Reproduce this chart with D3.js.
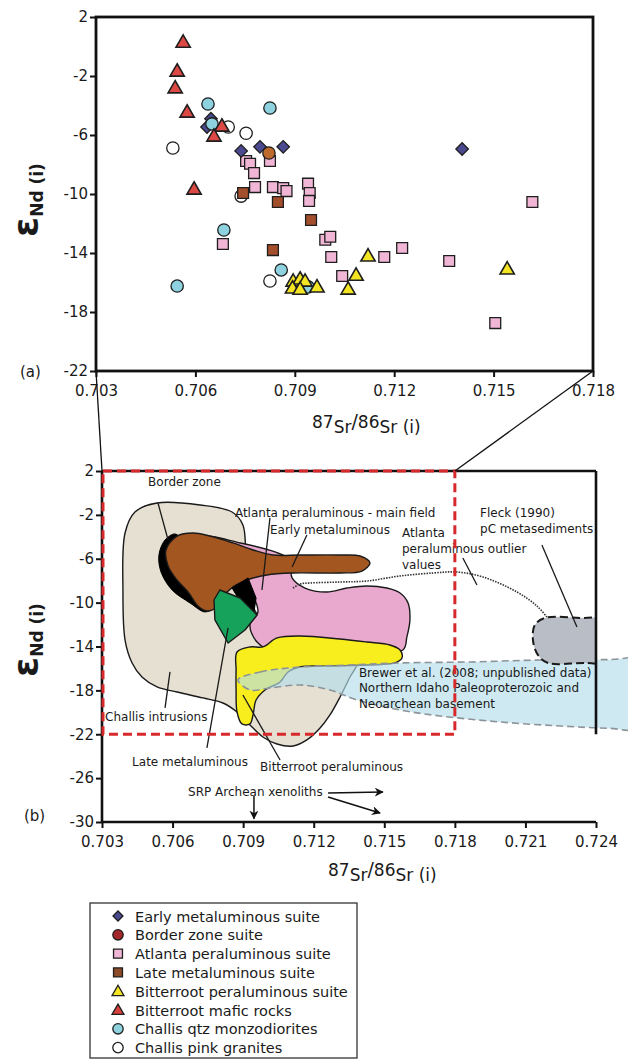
<!DOCTYPE html>
<html><head><meta charset="utf-8">
<script src="https://cdn.jsdelivr.net/npm/d3@7"></script>
<style>body{margin:0;background:#fff} svg{display:block} text{font-family:"DejaVu Sans",Verdana,sans-serif;fill:#1a1a1a}</style>
</head><body><svg id="c" width="628" height="1063"></svg>
<script>
// ---------- Panel (a) data: [87Sr/86Sr(i), eNd(i)] ----------
const earlyMetaluminous = [[0.70635,-5.46],[0.70647,-4.9],[0.70738,-7.08],[0.70795,-6.8],[0.70865,-6.8],[0.71405,-6.95]];
const borderZone = [[0.70822,-7.22]];
const atlantaPeraluminous = [[0.70753,-7.76],[0.70765,-7.95],[0.70777,-8.58],[0.70825,-7.76],[0.7078,-9.53],[0.70834,-9.53],
  [0.70865,-9.6],[0.70875,-9.8],[0.7094,-9.3],[0.70945,-9.93],[0.70943,-10.47],[0.70683,-13.39],[0.70992,-13.1],[0.71007,-12.9],
  [0.7101,-14.27],[0.71043,-15.56],[0.7117,-14.27],[0.71224,-13.66],[0.71366,-14.54],[0.71505,-18.75],[0.71617,-10.54]];
const lateMetaluminous = [[0.70744,-9.93],[0.70849,-10.54],[0.70949,-11.76],[0.70834,-13.8]];
const bitterrootPeraluminous = [[0.70895,-15.9],[0.70916,-15.76],[0.70931,-15.9],[0.70893,-16.37],[0.70916,-16.45],[0.70967,-16.3],
  [0.71121,-14.2],[0.71085,-15.5],[0.71061,-16.44],[0.71541,-15.08]];
const bitterrootMafic = [[0.70563,0.3],[0.70545,-1.66],[0.70539,-2.8],[0.70575,-4.44],[0.7068,-5.39],[0.70656,-6.07],[0.70596,-9.66]];
const challisQtzMonzodiorites = [[0.70638,-3.9],[0.70825,-4.17],[0.7065,-5.25],[0.70686,-12.44],[0.70859,-15.15],[0.70545,-16.24],[0.7094,-16.3]];
const challisPinkGranites = [[0.70532,-6.88],[0.70699,-5.46],[0.70753,-5.88],[0.70738,-10.14],[0.70825,-15.9]];

const xTicksA = [0.703,0.706,0.709,0.712,0.715,0.718];
const yTicksA = [2,-2,-6,-10,-14,-18,-22];
const xTicksB = [0.703,0.706,0.709,0.712,0.715,0.718,0.721,0.724];
const yTicksB = [2,-2,-6,-10,-14,-18,-22,-26,-30];

// ---------- Panel (b) fields: outlines in data units ----------
const challisField = [[0.70534,-0.92],[0.70717,-1.10],[0.70853,-1.74],[0.70899,-2.92],[0.70912,-6.11],[0.70929,-9.76],[0.71014,-12.49],
  [0.71142,-14.32],[0.71312,-15.23],[0.71384,-15.50],[0.71354,-16.78],[0.71312,-18.60],[0.71269,-20.24],[0.71227,-21.43],[0.71171,-22.52],
  [0.71112,-23.07],[0.71044,-22.89],[0.70984,-22.25],[0.70929,-21.15],[0.70874,-19.97],[0.70814,-19.15],[0.70729,-18.69],[0.70619,-18.15],
  [0.70534,-17.69],[0.7047,-16.78],[0.70428,-15.5],[0.70398,-13.41],[0.70389,-8.85],[0.70398,-3.65],[0.7044,-1.74]];
const borderField = [[0.7061,-3.74],[0.70568,-4.29],[0.70542,-5.66],[0.70551,-7.21],[0.70598,-8.85],[0.70674,-10.03],[0.70738,-10.85],
  [0.70768,-10.49],[0.70717,-8.85],[0.70653,-6.11],[0.7064,-4.29]];
const borderWedge = [[0.70853,-8.67],[0.70921,-7.75],[0.70955,-9.58],[0.70946,-10.85],[0.70899,-10.31]];
const earlyField = [[0.70619,-3.93],[0.70687,-3.65],[0.70759,-3.93],[0.70857,-4.56],[0.70942,-5.2],[0.71027,-5.66],[0.71142,-5.66],
  [0.71312,-5.66],[0.71397,-5.75],[0.71439,-6.39],[0.71405,-7.12],[0.71312,-7.3],[0.71112,-7.3],[0.71001,-7.48],[0.70916,-7.94],
  [0.70857,-8.57],[0.70814,-9.49],[0.70789,-10.4],[0.70746,-10.76],[0.70708,-10.31],[0.70666,-9.03],[0.70619,-7.94],[0.70581,-6.66],[0.70572,-5.2]];
const atlantaField = [[0.70738,-4.02],[0.70887,-4.56],[0.71035,-5.38],[0.71099,-6.11],[0.71108,-7.75],[0.71163,-8.67],[0.71256,-9.03],
  [0.71341,-8.67],[0.71426,-8.48],[0.71511,-8.67],[0.71567,-9.12],[0.71601,-10.03],[0.71609,-11.58],[0.71596,-13.13],[0.71579,-14.32],
  [0.71269,-14.5],[0.71035,-14.5],[0.70959,-13.59],[0.70929,-12.04],[0.70963,-10.85],[0.70916,-8.39],[0.70823,-6.11]];
const lateField = [[0.70801,-8.85],[0.70887,-9.58],[0.70959,-11.13],[0.70908,-12.49],[0.70836,-13.68],[0.7078,-11.58],[0.70776,-9.76]];
const bitterrootField = [[0.70874,-14.5],[0.70929,-14.04],[0.70984,-14.04],[0.71044,-13.22],[0.71142,-13.04],[0.71312,-13.32],[0.71426,-13.59],
  [0.71524,-13.86],[0.71567,-14.32],[0.71575,-15.05],[0.71545,-15.5],[0.71439,-15.69],[0.71269,-15.78],[0.71142,-15.87],[0.71091,-16.32],
  [0.71057,-17.23],[0.70993,-17.96],[0.70955,-18.88],[0.70942,-20.24],[0.70929,-21.06],[0.70895,-21.06],[0.70874,-19.97],[0.7087,-17.96],[0.7087,-16.14]];
const brewerField = [[0.70878,-17.05],[0.70972,-16.32],[0.71142,-15.87],[0.71354,-15.69],[0.71567,-15.5],[0.71864,-15.41],[0.72162,-15.23],
  [0.7245,-15.2],[0.7265,-15.2],[0.7268,-18.3],[0.7265,-21.5],[0.7245,-21.45],[0.72247,-21.25],[0.71992,-20.88],[0.71737,-20.33],[0.71567,-19.79],[0.71384,-18.88],[0.71269,-17.96],
  [0.71142,-17.51],[0.71014,-17.78],[0.70929,-17.96]];
const fleckField = [[0.72183,-11.4],[0.7235,-11.4],[0.7255,-11.4],[0.7258,-13.4],[0.7255,-15.5],[0.7235,-15.5],[0.72196,-15.5],[0.72153,-14.77],[0.72132,-13.41],[0.7214,-12.04]];
const outlierLine = [[0.71112,-8.67],[0.71142,-8.3],[0.71184,-8.21],[0.71312,-8.12],[0.71426,-8.03],[0.71567,-7.57],[0.71707,-7.3],
  [0.71809,-7.21],[0.71919,-7.66],[0.72064,-9.03],[0.72149,-10.31],[0.72191,-11.31]];

const fieldLabels = [
  {t:"Border zone", x:0.70496, y:0.63},
  {t:"Atlanta peraluminous - main field", x:0.70865, y:-2.19},
  {t:"Early metaluminous", x:0.71014, y:-3.74},
  {t:"Atlanta", x:0.71575, y:-4.02},
  {t:"peraluminous outlier", x:0.71575, y:-5.48},
  {t:"values", x:0.71575, y:-6.93},
  {t:"Fleck (1990)", x:0.71907, y:-2.19},
  {t:"pC metasediments", x:0.71907, y:-3.65},
  {t:"Brewer et al. (2008; unpublished data)", x:0.71392, y:-16.78},
  {t:"Northern Idaho Paleoproterozoic and", x:0.71392, y:-18.15},
  {t:"Neoarchean basement", x:0.71392, y:-19.6},
  {t:"Challis intrusions", x:0.70313, y:-20.79},
  {t:"Late metaluminous", x:0.70428, y:-24.89},
  {t:"Bitterroot peraluminous", x:0.70972, y:-25.35},
  {t:"SRP Archean xenoliths", x:0.70666, y:-27.63}
];
const leaders = [
  [[0.70538,-0.92],[0.70581,-4.29]],
  [[0.71014,-2.28],[0.7098,-8.85]],
  [[0.71171,-3.83],[0.71108,-6.75]],
  [[0.71834,-5.93],[0.71894,-8.39]],
  [[0.7217,-4.75],[0.72319,-12.22]],
  [[0.70589,-16.32],[0.70568,-19.6]],
  [[0.70746,-23.25],[0.70836,-12.31]],
  [[0.71057,-24.35],[0.70899,-18.42]]
];
const arrows = [
  [[0.70946,-27.63],[0.70946,-29.7]],
  [[0.71261,-27.35],[0.71494,-27.26]],
  [[0.71261,-27.72],[0.71482,-29.18]]
];

const legendItems = [
  {name:"Early metaluminous suite", sym:"diamond", fill:"#4b4a90"},
  {name:"Border zone suite", sym:"circle", fill:"#a3282b"},
  {name:"Atlanta peraluminous suite", sym:"square", fill:"#f1b6d6"},
  {name:"Late metaluminous suite", sym:"square", fill:"#8e4b28"},
  {name:"Bitterroot peraluminous suite", sym:"triangle", fill:"#f3e424"},
  {name:"Bitterroot mafic rocks", sym:"triangle", fill:"#d8413c"},
  {name:"Challis qtz monzodiorites", sym:"circle", fill:"#8ed2df"},
  {name:"Challis pink granites", sym:"circle", fill:"#ffffff"}
];

// ---------- drawing ----------
const svg = d3.select("#c");
const symGen = {
  diamond: d3.symbol().type(d3.symbolSquare).size(78),
  circle: d3.symbol().type(d3.symbolCircle).size(120),
  square: d3.symbol().type(d3.symbolSquare).size(118),
  triangle: d3.symbol().type(d3.symbolTriangle).size(88)
};

// Panel (a)
const xa = d3.scaleLinear().domain([0.703,0.718]).range([96,593]);
const ya = d3.scaleLinear().domain([-22,2]).range([371,17]);
const ga = svg.append("g");

function yLabel(g, cx, cy){
  const t = g.append("text").attr("transform",`translate(${cx},${cy}) rotate(-90)`).attr("text-anchor","middle")
    .style("font-weight","bold");
  t.append("tspan").text("ε").style("font-size","36px");
  t.append("tspan").text("Nd").style("font-size","17px").attr("dy",5);
  t.append("tspan").text(" (i)").style("font-size","17px");
}
function xTitle(g, x, y){
  const t = g.append("text").attr("x",x).attr("y",y).style("font-size","17px");
  t.append("tspan").text("87");
  t.append("tspan").text("Sr").attr("dy",5);
  t.append("tspan").text("/").attr("dy",-5).style("font-size","19px");
  t.append("tspan").text("86");
  t.append("tspan").text("Sr").attr("dy",5);
  t.append("tspan").text(" (i)");
}
const fmtY = v => (v<0?"-":"")+Math.abs(v);

function drawAxes(g, x, y, xt, yt){
  const ax = g.append("g").attr("transform",`translate(0,${y.range()[0]})`)
    .call(d3.axisBottom(x).tickValues(xt).tickSize(6).tickPadding(8).tickFormat(d3.format(".3f")));
  const ay = g.append("g").attr("transform",`translate(${x.range()[0]},0)`)
    .call(d3.axisLeft(y).tickValues(yt).tickSize(6).tickPadding(2).tickFormat(fmtY));
  [ax,ay].forEach(a=>{a.select(".domain").remove();
    a.selectAll("line").attr("stroke","#111").attr("stroke-width",2);
    a.selectAll("text").style("font-size","15px").attr("fill","#1a1a1a").style("font-family","'DejaVu Sans',sans-serif");});
}

drawAxes(ga, xa, ya, xTicksA, yTicksA);
ga.append("rect").attr("x",xa(0.703)).attr("y",ya(2)).attr("width",xa(0.718)-xa(0.703)).attr("height",ya(-22)-ya(2))
  .attr("fill","none").attr("stroke","#111").attr("stroke-width",2.8);

function drawSeries(data, sym, fill, rot){
  ga.append("g").selectAll("path").data(data).join("path")
    .attr("d", symGen[sym])
    .attr("transform", d=>`translate(${xa(d[0])},${ya(d[1])})`+(rot?" rotate(45)":"")+(sym==="triangle"?" translate(0,1)":""))
    .attr("fill", fill).attr("stroke","#1e1e1e").attr("stroke-width", sym==="triangle"?1.6:1.3);
}
drawSeries(challisPinkGranites,"circle","#ffffff");
drawSeries(atlantaPeraluminous,"square","#f1b6d6");
drawSeries(lateMetaluminous,"square","#a34f2b");
drawSeries(earlyMetaluminous,"diamond","#4b4a90",true);
drawSeries(challisQtzMonzodiorites,"circle","#8ed2df");
drawSeries(borderZone,"circle","#bf6a2d");
drawSeries(bitterrootMafic,"triangle","#dc4944");
drawSeries(bitterrootPeraluminous,"triangle","#f3e424");

yLabel(ga, 38, 200);
xTitle(ga, 312, 428);
ga.append("text").attr("x",20).attr("y",377).text("(a)").style("font-size","15px");

// Panel (b)
const xb = d3.scaleLinear().domain([0.703,0.724]).range([102,596]);
const yb = d3.scaleLinear().domain([-30,2]).range([822,471]);
const gb = svg.append("g");
const area = d3.line().x(d=>xb(d[0])).y(d=>yb(d[1])).curve(d3.curveCatmullRomClosed.alpha(0.5));
const poly = d3.line().x(d=>xb(d[0])).y(d=>yb(d[1])).curve(d3.curveLinearClosed);
const open = d3.line().x(d=>xb(d[0])).y(d=>yb(d[1])).curve(d3.curveCatmullRom.alpha(0.5));

const defs = svg.append("defs");
defs.append("clipPath").attr("id","clipB").append("rect").attr("x",xb(0.703)).attr("y",yb(2)).attr("width",xb(0.724)-xb(0.703)).attr("height",yb(-30)-yb(2));
defs.append("clipPath").attr("id","clipW").append("rect").attr("x",xb(0.703)).attr("y",yb(2)).attr("width",628-xb(0.703)).attr("height",yb(-30)-yb(2));
const fields = gb.append("g").attr("clip-path","url(#clipB)");

fields.append("path").attr("d",area(challisField)).attr("fill","#e5e0d2").attr("stroke","#1a1a1a").attr("stroke-width",1.4);
fields.append("path").attr("d",area(atlantaField)).attr("fill","#e9a9cf").attr("stroke","#1a1a1a").attr("stroke-width",1.4);
fields.append("path").attr("d",area(borderField)).attr("fill","#000").attr("stroke","#000");
fields.append("path").attr("d",area(earlyField)).attr("fill","#a3561f").attr("stroke","#1a1a1a").attr("stroke-width",1.4);
fields.append("path").attr("d",poly(borderWedge)).attr("fill","#000").attr("stroke","#000");
fields.append("path").attr("d",poly(lateField)).attr("fill","#17a25c").attr("stroke","#1a1a1a").attr("stroke-width",1.4).attr("stroke-linejoin","round");
fields.append("path").attr("d",area(bitterrootField)).attr("fill","#f8ee1e").attr("stroke","#1a1a1a").attr("stroke-width",1.4);
gb.append("g").attr("clip-path","url(#clipW)").append("path").attr("d",area(brewerField)).attr("fill","#b3dde9").attr("fill-opacity",0.65)
  .attr("stroke","#8c949a").attr("stroke-width",1.6).attr("stroke-dasharray","7,4");
const f2 = gb.append("g").attr("clip-path","url(#clipB)");
f2.append("path").attr("d",area(fleckField)).attr("fill","#b8bdc6")
  .attr("stroke","#1a1a1a").attr("stroke-width",2).attr("stroke-dasharray","8,4");
f2.append("path").attr("d",open(outlierLine)).attr("fill","none").attr("stroke","#333").attr("stroke-width",1.6).attr("stroke-dasharray","1.5,1.2");

gb.append("g").selectAll("line").data(leaders).join("line")
  .attr("x1",d=>xb(d[0][0])).attr("y1",d=>yb(d[0][1])).attr("x2",d=>xb(d[1][0])).attr("y2",d=>yb(d[1][1]))
  .attr("stroke","#1a1a1a").attr("stroke-width",1.3);

defs.append("marker").attr("id","arr").attr("viewBox","0 0 10 10").attr("refX",9).attr("refY",5)
  .attr("markerWidth",9).attr("markerHeight",9).attr("orient","auto-start-reverse").attr("markerUnits","userSpaceOnUse")
  .append("path").attr("d","M0,0L10,5L0,10L3,5Z").attr("fill","#111");
gb.append("g").selectAll("line").data(arrows).join("line")
  .attr("x1",d=>xb(d[0][0])).attr("y1",d=>yb(d[0][1])).attr("x2",d=>xb(d[1][0])).attr("y2",d=>yb(d[1][1]))
  .attr("stroke","#111").attr("stroke-width",1.5).attr("marker-end","url(#arr)");

gb.append("g").selectAll("text").data(fieldLabels).join("text")
  .attr("x",d=>xb(d.x)).attr("y",d=>yb(d.y)).text(d=>d.t).style("font-size","12px");

drawAxes(gb, xb, yb, xTicksB, yTicksB);
// frame
gb.append("line").attr("x1",xb(0.703)).attr("x2",xb(0.703)).attr("y1",yb(2)).attr("y2",yb(-30)).attr("stroke","#111").attr("stroke-width",2.6);
gb.append("line").attr("x1",xb(0.703)).attr("x2",xb(0.724)).attr("y1",yb(-30)).attr("y2",yb(-30)).attr("stroke","#111").attr("stroke-width",2.6);
gb.append("line").attr("x1",xb(0.703)).attr("x2",xb(0.724)).attr("y1",yb(2)).attr("y2",yb(2)).attr("stroke","#111").attr("stroke-width",2.6);
gb.append("line").attr("x1",xb(0.724)).attr("x2",xb(0.724)).attr("y1",yb(2)).attr("y2",yb(-22)).attr("stroke","#111").attr("stroke-width",2.6);
// red dashed box = extent of panel (a)
gb.append("rect").attr("x",xb(0.703)+1).attr("y",yb(2)).attr("width",xb(0.718)-xb(0.703)-1).attr("height",yb(-22)-yb(2))
  .attr("fill","none").attr("stroke","#d7282b").attr("stroke-width",3).attr("stroke-dasharray","9,5");

yLabel(gb, 38, 640);
xTitle(gb, 328, 876);
gb.append("text").attr("x",24).attr("y",821).text("(b)").style("font-size","15px");

// connector lines between panels
svg.append("line").attr("x1",xa(0.703)).attr("y1",ya(-22)).attr("x2",xb(0.703)).attr("y2",yb(2)).attr("stroke","#111").attr("stroke-width",1.3);
svg.append("line").attr("x1",xa(0.718)).attr("y1",ya(-22)).attr("x2",xb(0.718)).attr("y2",yb(2)).attr("stroke","#111").attr("stroke-width",1.3);

// legend
const lg = svg.append("g");
lg.append("rect").attr("x",90).attr("y",903).attr("width",267).attr("height",155).attr("fill","#fff").attr("stroke","#333").attr("stroke-width",1.3);
const row = lg.selectAll("g.row").data(legendItems).join("g").attr("class","row")
  .attr("transform",(d,i)=>`translate(118,${916+i*18.8})`);
row.append("path").attr("d",d=>d3.symbol().type(d.sym==="circle"?d3.symbolCircle:d.sym==="triangle"?d3.symbolTriangle:d3.symbolSquare)
   .size(d.sym==="diamond"?50:d.sym==="triangle"?62:d.sym==="square"?80:85)())
  .attr("transform",d=>d.sym==="diamond"?"rotate(45)":d.sym==="triangle"?"translate(0,1)":"")
  .attr("fill",d=>d.fill).attr("stroke","#1e1e1e").attr("stroke-width",1.3);
row.append("text").attr("x",17).attr("y",5.5).text(d=>d.name).style("font-size","14.5px");
</script></body></html>
